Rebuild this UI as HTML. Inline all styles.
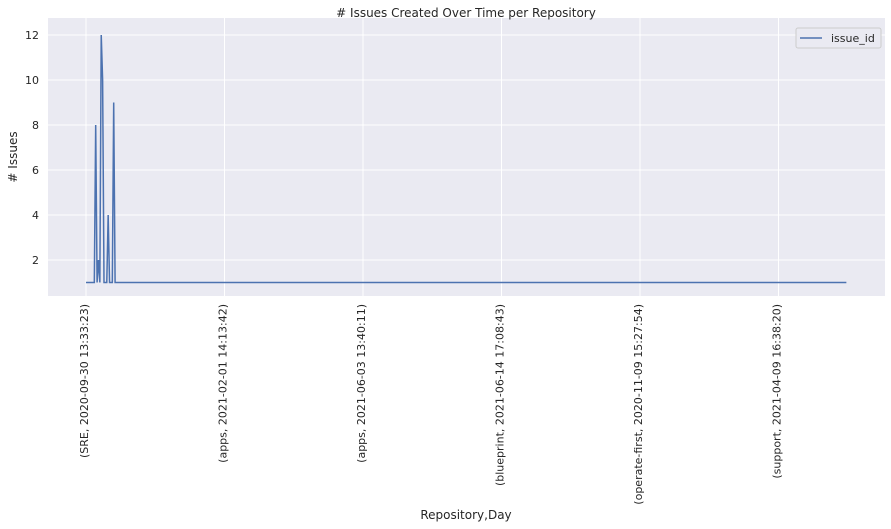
<!DOCTYPE html>
<html><head><meta charset="utf-8"><style>
body{margin:0;background:#fff;}
svg{display:block;font-family:"DejaVu Sans","Liberation Sans",sans-serif;}
</style></head><body>
<svg id="chart" width="891" height="529">
<rect x="48" y="18" width="837" height="278" fill="#eaeaf2"/>
<g id="grid"></g>
<g id="series"></g>
<g id="ticks"></g>
<text x="466" y="17" text-anchor="middle" font-size="12" fill="#262626"># Issues Created Over Time per Repository</text>
<text x="466" y="519" text-anchor="middle" font-size="12" fill="#262626">Repository,Day</text>
<text transform="translate(17,157) rotate(-90)" text-anchor="middle" font-size="12" fill="#262626"># Issues</text>
<g>
<rect x="796" y="28" width="85" height="20" rx="2" fill="#eaeaf2" stroke="#cccccc" stroke-width="1"/>
<line x1="800" y1="38" x2="822" y2="38" stroke="#4c72b0" stroke-width="1.5"/>
<text x="831" y="42" font-size="11" fill="#262626">issue_id</text>
</g>
</svg>
<script>
const headValues = [1,1,1,1,1,1,1,8,1,2,1,12,10,1,1,1,4,1,1,1,9,1];
const tailLength = 528;
const tailValue = 1;
const xTickLabels = ["(SRE, 2020-09-30 13:33:23)","(apps, 2021-02-01 14:13:42)","(apps, 2021-06-03 13:40:11)","(blueprint, 2021-06-14 17:08:43)","(operate-first, 2020-11-09 15:27:54)","(support, 2021-04-09 16:38:20)"];
const xTickIdx = [0,100,200,300,400,500];
const yTicks = [2,4,6,8,10,12];

const values = headValues.concat(new Array(tailLength).fill(tailValue));
const NS="http://www.w3.org/2000/svg";
const xS = i => 86 + i*1.385;
const yS = v => 282.5 - (v-1)*22.5;
const grid=document.getElementById('grid'), ticks=document.getElementById('ticks'), series=document.getElementById('series');
yTicks.forEach(t=>{
  const l=document.createElementNS(NS,'line');
  l.setAttribute('x1',48);l.setAttribute('x2',885);l.setAttribute('y1',yS(t));l.setAttribute('y2',yS(t));
  l.setAttribute('stroke','#fff');
  
  
  grid.appendChild(l);
  const tx=document.createElementNS(NS,'text');
  tx.setAttribute('x',39);tx.setAttribute('y',yS(t)+4);tx.setAttribute('text-anchor','end');
  tx.setAttribute('font-size','11');tx.setAttribute('fill','#262626');
  tx.textContent=t;
  
  
  ticks.appendChild(tx);
});
xTickIdx.forEach((idx,k)=>{
  const x=xS(idx);
  const l=document.createElementNS(NS,'line');
  l.setAttribute('x1',x);l.setAttribute('x2',x);l.setAttribute('y1',18);l.setAttribute('y2',296);
  l.setAttribute('stroke','#fff');
  
  
  grid.appendChild(l);
  const tx=document.createElementNS(NS,'text');
  tx.setAttribute('transform',`translate(${x+2},304) rotate(-90)`);
  tx.setAttribute('text-anchor','end');
  tx.setAttribute('font-size','11');tx.setAttribute('fill','#262626');
  tx.textContent=xTickLabels[k];
  
  
  ticks.appendChild(tx);
});
const p=document.createElementNS(NS,'polyline');
p.setAttribute('points',values.map((v,i)=>xS(i).toFixed(2)+','+yS(v).toFixed(2)).join(' '));
p.setAttribute('fill','none');p.setAttribute('stroke','#4c72b0');p.setAttribute('stroke-width','1.5');


series.appendChild(p);
</script>
</body></html>
